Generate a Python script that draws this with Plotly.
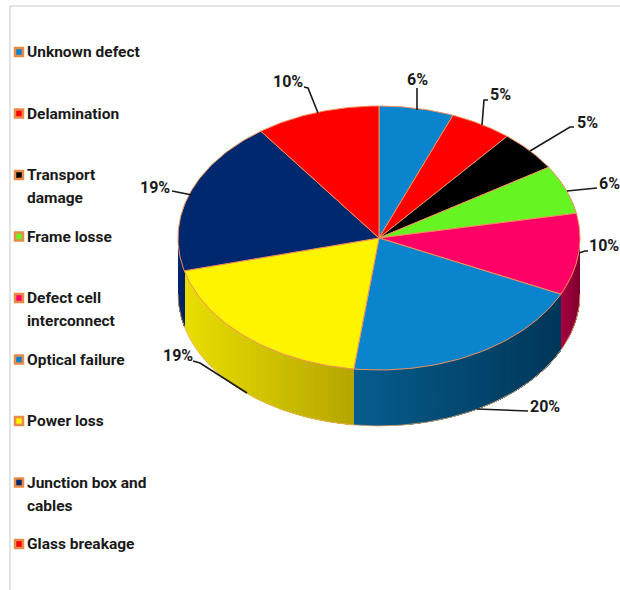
import numpy as np
import plotly.graph_objects as go

categories = ["Unknown defect", "Delamination", "Transport<br>damage", "Frame losse",
              "Defect cell<br>interconnect", "Optical failure", "Power loss",
              "Junction box and<br>cables", "Glass breakage"]
values = [6, 5, 5, 6, 10, 20, 19, 19, 10]

top_colors = ["#0a84cc", "#ff0000", "#000000", "#66f522", "#ff0066",
              "#0a84cc", "#fff400", "#00286e", "#ff0000"]
wall_start = {4: (168, 0, 62), 5: (6, 92, 140), 6: (232, 222, 0), 7: (0, 40, 112)}
wall_end = {4: (125, 0, 48), 5: (0, 54, 88), 6: (180, 164, 0), 7: (0, 34, 96)}

label_pos = [(417, 79), (500, 94), (587, 122), (609, 183), (604, 245),
             (545, 406), (178, 355), (155, 187), (288, 81)]
leaders = [
    [(417, 88), (417, 110)],
    [(488, 100), (484, 100), (482, 125)],
    [(574, 127), (570, 127), (530, 151)],
    [(597, 188), (567, 191)],
    [(588, 251), (585, 251), (579, 253)],
    [(528, 411), (477, 409)],
    [(193, 361), (200, 363), (247, 393)],
    [(172, 191), (192, 195)],
    [(304, 87), (308, 88), (318, 113)],
]

CX, CY, RX, RY, DEPTH = 379, 238, 201, 132, 56
EDGE = "#f2905a"
FONT = "Roboto"
TEXT = "#1a1a1a"


def px(a):
    return CX + RX * np.sin(a)


def py(a):
    return CY - RY * np.cos(a)


fig = go.Figure()


def poly(xs, ys, fill, line=None, width=1):
    fig.add_trace(go.Scatter(x=xs, y=ys, mode="lines", fill="toself", fillcolor=fill,
                             line=dict(color=line or fill, width=width),
                             hoverinfo="skip", showlegend=False))


edges = np.cumsum([0] + values) / sum(values) * 2 * np.pi

# side wall: x falls as the angle grows here, so paint from the left,
# each band running on to the slice's right end and overpainted by the next
for i in range(len(values)):
    lo, hi = max(edges[i], np.pi / 2), min(edges[i + 1], 3 * np.pi / 2)
    if hi <= lo:
        continue
    steps = np.linspace(lo, hi, 37)
    xl, xr = px(hi), px(lo)
    for k in range(35, -1, -1):
        t = (px(steps[k + 1]) - xl) / (xr - xl)
        c = [round(s + (e - s) * t) for s, e in zip(wall_start[i], wall_end[i])]
        col = f"rgb({c[0]},{c[1]},{c[2]})"
        seg = np.linspace(lo, steps[k + 1], 30)
        xs = np.concatenate([px(seg), px(seg[::-1])])
        ys = np.concatenate([py(seg), py(seg[::-1]) + DEPTH])
        poly(xs, ys, col, width=0)

# outer rim of the wall
rim = np.linspace(np.pi / 2, 3 * np.pi / 2, 181)
fig.add_trace(go.Scatter(x=px(rim), y=py(rim) + DEPTH, mode="lines",
                         line=dict(color="#f0b070", width=0.8),
                         hoverinfo="skip", showlegend=False))

# top face
for i in range(len(values)):
    arc = np.linspace(edges[i], edges[i + 1], 60)
    poly(np.concatenate([[CX], px(arc), [CX]]), np.concatenate([[CY], py(arc), [CY]]),
         top_colors[i], line=EDGE, width=1)

# leader lines
for pts in leaders:
    fig.add_trace(go.Scatter(x=[p[0] for p in pts], y=[p[1] for p in pts], mode="lines",
                             line=dict(color="#1a1a1a", width=1.6),
                             hoverinfo="skip", showlegend=False))

# page frame
fig.add_trace(go.Scatter(x=[10, 10, 620], y=[590, 6, 6], mode="lines",
                         line=dict(color="#c9c9c9", width=1),
                         hoverinfo="skip", showlegend=False))

# percentage labels
for v, (x, y) in zip(values, label_pos):
    fig.add_annotation(x=x, y=y, text=f"{v}%", showarrow=False, xanchor="center", yanchor="middle",
                       font=dict(family=FONT, size=16, color=TEXT, weight="bold"))

# legend
legend_y = 52 + np.arange(len(categories)) * 61.5
fig.add_trace(go.Scatter(x=[19] * len(categories), y=legend_y, mode="markers",
                         marker=dict(symbol="square", size=8, color=top_colors,
                                     line=dict(color="#e88a48", width=2.5)),
                         hoverinfo="skip", showlegend=False))
for name, y in zip(categories, legend_y):
    for j, part in enumerate(name.split("<br>")):
        fig.add_annotation(x=25, y=y + 23 * j, text=part, showarrow=False,
                           xanchor="left", yanchor="middle", align="left",
                           font=dict(family=FONT, size=15.5, color=TEXT, weight="bold"))

fig.update_layout(width=620, height=590, margin=dict(l=0, r=0, t=0, b=0),
                  paper_bgcolor="white", plot_bgcolor="white", showlegend=False,
                  xaxis=dict(range=[0, 620], visible=False, fixedrange=True),
                  yaxis=dict(range=[590, 0], visible=False, fixedrange=True))

fig.write_html("out.html", config=dict(displayModeBar=False),
               post_script="document.body.style.margin='0';document.documentElement.style.overflow='hidden';")
